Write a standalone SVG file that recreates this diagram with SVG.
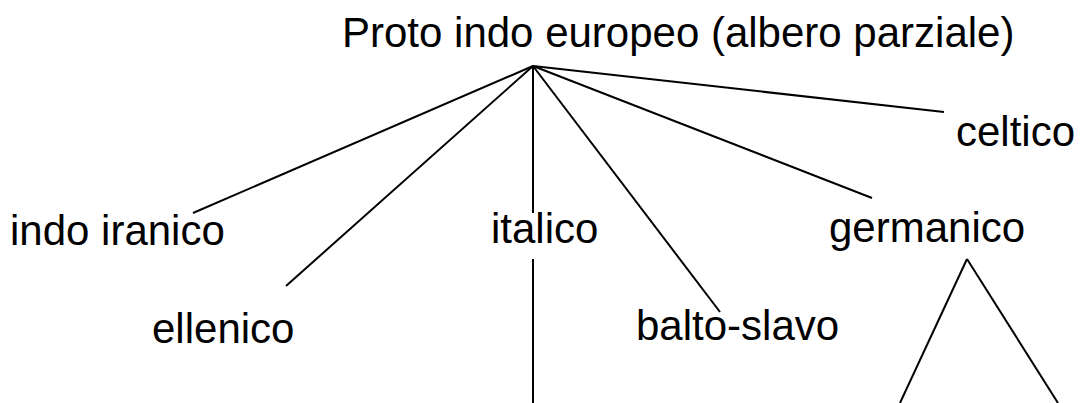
<svg xmlns="http://www.w3.org/2000/svg" width="1083" height="403" viewBox="0 0 1083 403">
<style>
text{font-family:"Liberation Sans",Arial,sans-serif;font-size:42px;fill:#000}
line{stroke:#000;stroke-width:2}
</style>
<rect width="1083" height="403" fill="#fff"/>
<g id="connectors">
<line x1="533" y1="66" x2="193" y2="213"/>
<line x1="533" y1="66" x2="286" y2="286"/>
<line x1="533" y1="66" x2="533" y2="213"/>
<line x1="533" y1="259" x2="533" y2="403"/>
<line x1="533" y1="66" x2="720" y2="312"/>
<line x1="533" y1="66" x2="872" y2="198"/>
<line x1="533" y1="66" x2="944" y2="112"/>
<line x1="967" y1="259" x2="900" y2="403"/>
<line x1="967" y1="259" x2="1058" y2="403"/>
</g>
<g id="root"><text x="342" y="47">Proto indo europeo (albero parziale)</text></g>
<g id="indo-iranico"><text x="10" y="245">indo iranico</text></g>
<g id="ellenico"><text x="152" y="343">ellenico</text></g>
<g id="italico"><text x="491" y="243">italico</text></g>
<g id="balto-slavo"><text x="636" y="340">balto-slavo</text></g>
<g id="germanico"><text x="829" y="242">germanico</text></g>
<g id="celtico"><text x="956" y="146">celtico</text></g>
</svg>
